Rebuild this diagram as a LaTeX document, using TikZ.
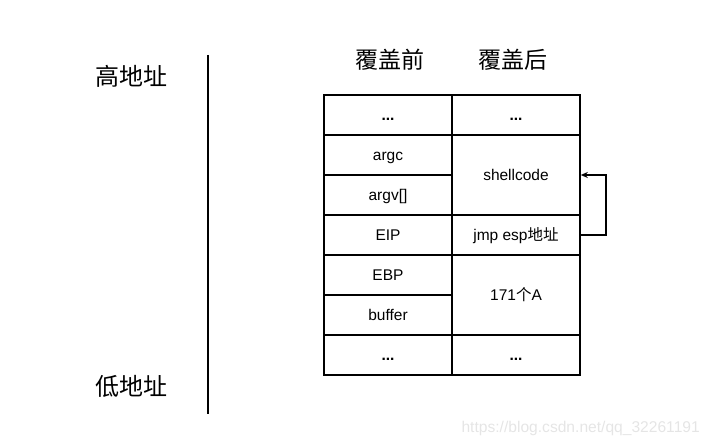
\documentclass[tikz,border=0pt]{standalone}
\usepackage{fontspec}
\setmainfont{Liberation Sans}
\newfontfamily\cjk{Noto Sans CJK SC}
\usetikzlibrary{arrows.meta}
\begin{document}
\begin{tikzpicture}[x=1pt,y=-1pt,
  cell/.style={draw,line width=1.6pt,minimum width=128pt,minimum height=40pt,inner sep=0pt,
    text height=11.5pt,text depth=0pt,font=\fontsize{15.5}{18}\selectfont},
  tall/.style={cell,minimum height=80pt},
  head/.style={font=\cjk\fontsize{23}{26}\selectfont,inner sep=0pt},
  addr/.style={font=\cjk\fontsize{24}{26}\selectfont,inner sep=0pt},
  conn/.style={line width=1.6pt,-{Stealth[length=7pt,width=6pt]}}]
\useasboundingbox (0,0) rectangle (710,446);
% address axis
\coordinate (axtop) at (208,55);
\coordinate (axbot) at (208,414);
\draw[line width=1.6pt] (axtop) -- (axbot);
\node[addr] (hi) at (131,76) {高地址};
\node[addr] (lo) at (131,386.5) {低地址};
% headers
\node[head] (hb) at (390,60) {覆盖前};
\node[head] (ha) at (513,60) {覆盖后};
% left column
\node[cell] (l1) at (388,115) {\textbf{...}};
\node[cell] (l2) at (388,155) {argc};
\node[cell] (l3) at (388,195) {argv[]};
\node[cell] (l4) at (388,235) {EIP};
\node[cell] (l5) at (388,275) {EBP};
\node[cell] (l6) at (388,315) {buffer};
\node[cell] (l7) at (388,355) {\textbf{...}};
% right column
\node[cell] (r1) at (516,115) {\textbf{...}};
\node[tall] (r2) at (516,175) {shellcode};
\node[cell] (r3) at (516,235) {jmp esp{\cjk 地址}};
\node[tall] (r4) at (516,295) {171{\cjk 个}A};
\node[cell] (r5) at (516,355) {\textbf{...}};
% jump arrow
\draw[conn] (r3.east) -| ++(25,-60) coordinate (bend) -- (r2.east);
% watermark
\node[text=black!10,font=\fontsize{15.6}{18}\selectfont,anchor=east,inner sep=0pt] (wm) at (700,428) {https://blog.csdn.net/qq\_32261191};
\end{tikzpicture}
\end{document}
